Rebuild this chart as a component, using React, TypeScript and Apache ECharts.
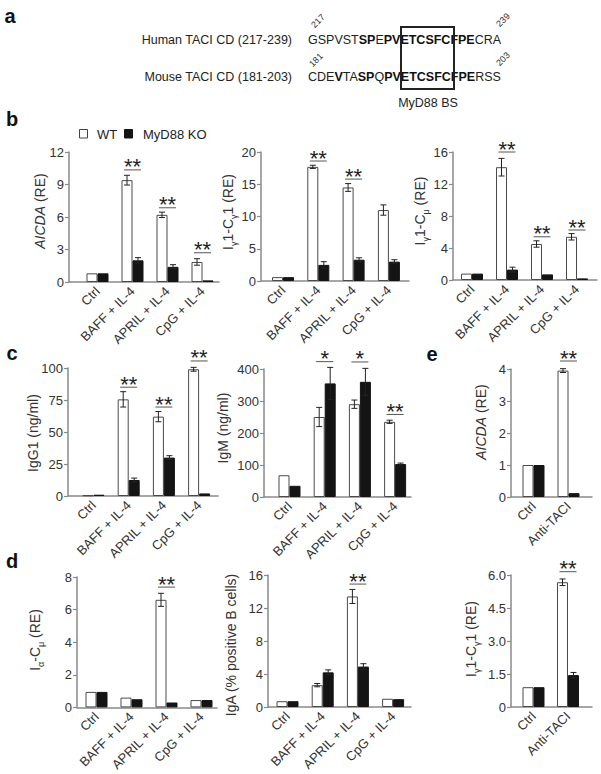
import React, { useEffect, useRef } from 'react';
import * as echarts from 'echarts';

// ---------- DATA ----------
const cats4 = ['Ctrl', 'BAFF + IL-4', 'APRIL + IL-4', 'CpG + IL-4'];
const catsE = ['Ctrl', 'Anti-TACI'];

// b: AICDA (RE)
const b1WT = [0.8, 9.4, 6.2, 1.85];
const b1WTErr = [0, 0.45, 0.25, 0.3];
const b1KO = [0.8, 2.0, 1.4, 0.15];
const b1KOErr = [0, 0.25, 0.2, 0];
const b1Sig: [number, number, string][] = [[2, 10.35, '**'], [3, 6.85, '**'], [4, 2.7, '**']];

// b: Iγ1-Cγ1 (RE)
const b2WT = [0.6, 17.7, 14.5, 11.0];
const b2WTErr = [0, 0.25, 0.6, 0.8];
const b2KO = [0.6, 2.5, 3.3, 3.0];
const b2KOErr = [0, 0.5, 0.3, 0.3];
const b2Sig: [number, number, string][] = [[2, 18.6, '**'], [3, 15.8, '**']];

// b: Iγ1-Cμ (RE)
const b3WT = [0.8, 14.1, 4.5, 5.4];
const b3WTErr = [0, 1.1, 0.4, 0.4];
const b3KO = [0.8, 1.3, 0.7, 0.2];
const b3KOErr = [0, 0.3, 0, 0];
const b3Sig: [number, number, string][] = [[2, 16.0, '**'], [3, 5.4, '**'], [4, 6.25, '**']];

// c: IgG1 (ng/ml)
const c1WT = [0.5, 75.5, 62, 99];
const c1WTErr = [0, 6, 4, 1.5];
const c1KO = [1, 12.5, 30, 2];
const c1KOErr = [0, 1.5, 1.5, 0];
const c1Sig: [number, number, string][] = [[2, 85, '**'], [3, 69.5, '**'], [4, 105.5, '**']];

// c: IgM (ng/ml)
const c2WT = [68, 250, 290, 235];
const c2WTErr = [0, 30, 13, 5];
const c2KO = [35, 355, 360, 103];
const c2KOErr = [0, 50, 42, 3];
const c2Sig: [number, number, string][] = [[2, 423, '*'], [3, 422, '*'], [4, 258, '**']];

// e: AICDA (RE), anti-TACI
const e1WT = [1.0, 3.95];
const e1WTErr = [0, 0.06];
const e1KO = [1.0, 0.12];
const e1KOErr = [0, 0];
const e1Sig: [number, number, string][] = [[2, 4.25, '**']];

// d: Iα-Cμ (RE)
const d1WT = [0.95, 0.6, 6.6, 0.45];
const d1WTErr = [0, 0, 0.4, 0];
const d1KO = [0.95, 0.5, 0.3, 0.45];
const d1KOErr = [0, 0, 0, 0];
const d1Sig: [number, number, string][] = [[3, 7.38, '**']];

// d: IgA (% positive B cells)
const d2WT = [0.7, 2.65, 13.4, 1.0];
const d2WTErr = [0, 0.2, 0.85, 0];
const d2KO = [0.7, 4.2, 4.9, 0.95];
const d2KOErr = [0, 0.3, 0.35, 0];
const d2Sig: [number, number, string][] = [[3, 14.9, '**']];

// e: Iγ1-Cγ1 (RE), anti-TACI
const e2WT = [0.9, 5.67];
const e2WTErr = [0, 0.15];
const e2KO = [0.9, 1.45];
const e2KOErr = [0, 0.12];
const e2Sig: [number, number, string][] = [[2, 6.15, '**']];

// ---------- STYLE / LAYOUT ----------
const FONT = '"Liberation Sans", Arial, Helvetica, sans-serif';
const AXIS = '#8a8a8a';
const TXT = '#333';

type Panel = {
  L: number; R: number; C1: number; S: number; top: number; bottom: number;
  cats: string[]; yMax: number; yInt: number;
  wt: number[]; wtErr: number[]; ko: number[]; koErr: number[];
  sig: [number, number, string][];
  yFmt?: (v: number) => string;
};

const panels: Panel[] = [
  { L: 69, R: 219, C1: 97.5, S: 35, top: 152, bottom: 282, cats: cats4, yMax: 12, yInt: 3, wt: b1WT, wtErr: b1WTErr, ko: b1KO, koErr: b1KOErr, sig: b1Sig },
  { L: 261, R: 409, C1: 283, S: 35.3, top: 152, bottom: 281, cats: cats4, yMax: 20, yInt: 5, wt: b2WT, wtErr: b2WTErr, ko: b2KO, koErr: b2KOErr, sig: b2Sig },
  { L: 453, R: 597, C1: 472, S: 35, top: 152, bottom: 280, cats: cats4, yMax: 16, yInt: 4, wt: b3WT, wtErr: b3WTErr, ko: b3KO, koErr: b3KOErr, sig: b3Sig },
  { L: 68, R: 218, C1: 93.5, S: 35.2, top: 368, bottom: 496, cats: cats4, yMax: 100, yInt: 25, wt: c1WT, wtErr: c1WTErr, ko: c1KO, koErr: c1KOErr, sig: c1Sig },
  { L: 264, R: 411, C1: 289.5, S: 35.2, top: 369, bottom: 497, cats: cats4, yMax: 400, yInt: 100, wt: c2WT, wtErr: c2WTErr, ko: c2KO, koErr: c2KOErr, sig: c2Sig },
  { L: 511, R: 592, C1: 533.5, S: 35, top: 369, bottom: 497, cats: catsE, yMax: 4, yInt: 1, wt: e1WT, wtErr: e1WTErr, ko: e1KO, koErr: e1KOErr, sig: e1Sig },
  { L: 77, R: 217, C1: 96.5, S: 35, top: 577, bottom: 708, cats: cats4, yMax: 8, yInt: 2, wt: d1WT, wtErr: d1WTErr, ko: d1KO, koErr: d1KOErr, sig: d1Sig },
  { L: 268, R: 411, C1: 287.5, S: 35.2, top: 575, bottom: 707, cats: cats4, yMax: 16, yInt: 4, wt: d2WT, wtErr: d2WTErr, ko: d2KO, koErr: d2KOErr, sig: d2Sig },
  { L: 511, R: 592, C1: 533.5, S: 34.5, top: 575, bottom: 707, cats: catsE, yMax: 6, yInt: 1.5, wt: e2WT, wtErr: e2WTErr, ko: e2KO, koErr: e2KOErr, sig: e2Sig, yFmt: (v) => (v === 0 ? '0' : v.toFixed(1)) },
];

const BAR_W = 11;

function buildOption() {
  const grid: any[] = [];
  const xAxis: any[] = [];
  const yAxis: any[] = [];
  const series: any[] = [];
  const axisLineStyle = { color: AXIS, width: 1.5 };

  panels.forEach((p, i) => {
    const n = p.cats.length;
    const Cn = p.C1 + (n - 1) * p.S;
    const min = 1 - (p.C1 - p.L) / p.S;
    const max = n + (p.R - Cn) / p.S;
    grid.push({ left: p.L, top: p.top, width: p.R - p.L, height: p.bottom - p.top });
    xAxis.push({
      gridIndex: i, type: 'value', min, max,
      axisLine: { show: true, onZero: false, lineStyle: axisLineStyle },
      axisTick: { show: false }, splitLine: { show: false },
      axisLabel: {
        customValues: p.cats.map((_, k) => k + 1),
        formatter: (v: number) => p.cats[Math.round(v) - 1] ?? '',
        rotate: 45, fontSize: 13, color: TXT, fontFamily: FONT, margin: 7,
      },
    });
    yAxis.push({
      gridIndex: i, type: 'value', min: 0, max: p.yMax, interval: p.yInt,
      axisLine: { show: true, lineStyle: axisLineStyle },
      axisTick: { show: true, length: 4, lineStyle: { color: AXIS, width: 1.2 } },
      splitLine: { show: false },
      axisLabel: { fontSize: 13, color: TXT, fontFamily: FONT, margin: 5, formatter: p.yFmt },
    });
    series.push({
      type: 'bar', name: 'WT', xAxisIndex: i, yAxisIndex: i, barWidth: BAR_W, barGap: '0%',
      data: p.wt.map((v, k) => [k + 1, v]),
      itemStyle: { color: '#ffffff', borderColor: '#4a4a4a', borderWidth: 1 },
    });
    series.push({
      type: 'bar', name: 'MyD88 KO', xAxisIndex: i, yAxisIndex: i, barWidth: BAR_W, barGap: '0%',
      data: p.ko.map((v, k) => [k + 1, v]),
      itemStyle: { color: '#141414', borderColor: '#141414', borderWidth: 1 },
    });
    const errData: number[][] = [];
    p.wt.forEach((v, k) => { if (p.wtErr[k] > 0) errData.push([k + 1, v, p.wtErr[k], -1]); });
    p.ko.forEach((v, k) => { if (p.koErr[k] > 0) errData.push([k + 1, v, p.koErr[k], 1]); });
    series.push({
      type: 'custom', xAxisIndex: i, yAxisIndex: i, clip: false, z: 5,
      encode: { x: 0, y: 1 },
      data: errData,
      renderItem: (_params: any, api: any) => {
        const x = api.value(0), m = api.value(1), e = api.value(2), side = api.value(3);
        const a = api.coord([x, m + e]);
        const b = api.coord([x, m - e]);
        const cx = a[0] + side * (BAR_W / 2);
        const style = { stroke: '#222', lineWidth: 1 };
        return {
          type: 'group',
          children: [
            { type: 'line', shape: { x1: cx, y1: a[1], x2: cx, y2: b[1] }, style },
            { type: 'line', shape: { x1: cx - 3, y1: a[1], x2: cx + 3, y2: a[1] }, style },
            { type: 'line', shape: { x1: cx - 3, y1: b[1], x2: cx + 3, y2: b[1] }, style },
          ],
        };
      },
    });
    const sig = p.sig;
    series.push({
      type: 'custom', xAxisIndex: i, yAxisIndex: i, clip: false, z: 6,
      encode: { x: 0, y: 1 },
      data: sig.map((s) => [s[0], s[1]]),
      renderItem: (params: any, api: any) => {
        const c = api.coord([api.value(0), api.value(1)]);
        const label = sig[params.dataIndex][2];
        return {
          type: 'group',
          children: [
            { type: 'line', shape: { x1: c[0] - 8.5, y1: c[1], x2: c[0] + 8.5, y2: c[1] }, style: { stroke: '#555', lineWidth: 1 } },
            { type: 'text', x: c[0], y: c[1] - 3, style: { text: label, fontSize: 22, fontFamily: FONT, fill: '#222', align: 'center', verticalAlign: 'middle' } },
          ],
        };
      },
    });
  });

  const g: any[] = [];
  const letter = (t: string, x: number, y: number) =>
    g.push({ type: 'text', x, y, style: { text: t, fontSize: 20, fontWeight: 'bold', fontFamily: FONT, fill: '#111', align: 'center', verticalAlign: 'middle' } });
  letter('a', 10, 16); letter('b', 12, 119); letter('c', 12, 353); letter('d', 12, 561); letter('e', 432, 354);

  // panel a
  const aFont = { fontSize: 12.5, fontFamily: FONT, fill: '#222' };
  g.push({ type: 'text', x: 292, y: 40, style: { text: 'Human TACI CD (217-239)', ...aFont, align: 'right', verticalAlign: 'middle' } });
  g.push({ type: 'text', x: 292, y: 77, style: { text: 'Mouse TACI CD (181-203)', ...aFont, align: 'right', verticalAlign: 'middle' } });
  const seqRich = { r: { fontSize: 12.5, fontFamily: FONT, fill: '#222' }, b: { fontSize: 12.5, fontFamily: FONT, fontWeight: 'bold', fill: '#111' } };
  g.push({ type: 'text', x: 308, y: 40, style: { text: '{r|GSPVST}{b|SP}{r|E}{b|PV}{b|ETCSFC}{b|FPE}{r|CRA}', rich: seqRich, ...aFont, align: 'left', verticalAlign: 'middle' } });
  g.push({ type: 'text', x: 308, y: 77, style: { text: '{r|CDE}{b|V}{r|TA}{b|SP}{r|Q}{b|PV}{b|ETCSFC}{b|FPE}{r|RSS}', rich: seqRich, ...aFont, align: 'left', verticalAlign: 'middle' } });
  g.push({ type: 'rect', shape: { x: 401, y: 27, width: 53, height: 62 }, style: { fill: 'none', stroke: '#222', lineWidth: 2 } });
  g.push({ type: 'text', x: 428, y: 103, style: { text: 'MyD88 BS', ...aFont, align: 'center', verticalAlign: 'middle' } });
  const num = (t: string, x: number, y: number) =>
    g.push({ type: 'text', x, y, rotation: Math.PI / 4, style: { text: t, fontSize: 9, fontFamily: FONT, fill: '#333', align: 'center', verticalAlign: 'middle' } });
  num('217', 318, 21); num('239', 503, 20); num('181', 316, 60); num('203', 503, 59);

  // legend
  g.push({ type: 'rect', shape: { x: 79.5, y: 129.5, width: 8, height: 8.5 }, style: { fill: '#fff', stroke: '#444', lineWidth: 1 } });
  g.push({ type: 'text', x: 97, y: 134, style: { text: 'WT', fontSize: 13, fontFamily: FONT, fill: '#222', align: 'left', verticalAlign: 'middle' } });
  g.push({ type: 'rect', shape: { x: 124.5, y: 129.5, width: 8, height: 8.5 }, style: { fill: '#141414', stroke: '#141414', lineWidth: 1 } });
  g.push({ type: 'text', x: 143, y: 134, style: { text: 'MyD88 KO', fontSize: 13, fontFamily: FONT, fill: '#222', align: 'left', verticalAlign: 'middle' } });

  // axis titles
  const richT = {
    n: { fontSize: 14, lineHeight: 20, fontFamily: FONT, fill: '#333', verticalAlign: 'middle' },
    i: { fontSize: 14, lineHeight: 20, fontFamily: FONT, fill: '#333', fontStyle: 'italic', verticalAlign: 'middle' },
    s: { fontSize: 9, lineHeight: 10, fontFamily: FONT, fill: '#333', verticalAlign: 'bottom' },
  };
  const title = (t: string, x: number, y: number) =>
    g.push({ type: 'text', x, y, rotation: Math.PI / 2, style: { text: t, rich: richT, fontSize: 14, fontFamily: FONT, fill: '#333', align: 'center', verticalAlign: 'middle' } });
  title('{i|AICDA}{n| (RE)}', 40, 211);
  title('{n|I}{s|γ}{n|1-C}{s|γ}{n|1 (RE)}', 228, 212);
  title('{n|I}{s|γ}{n|1-C}{s|μ}{n| (RE)}', 420, 211);
  title('{n|IgG1 (ng/ml)}', 33, 433);
  title('{n|IgM (ng/ml)}', 223, 428);
  title('{i|AICDA}{n| (RE)}', 481, 422);
  title('{n|I}{s|α}{n|-C}{s|μ}{n| (RE)}', 35, 640);
  title('{n|IgA (% positive B cells)}', 231, 645);
  title('{n|I}{s|γ}{n|1-C}{s|γ}{n|1 (RE)}', 471, 639);

  return {
    animation: false,
    backgroundColor: '#ffffff',
    textStyle: { fontFamily: FONT },
    grid, xAxis, yAxis, series,
    graphic: { elements: g },
  };
}

export default function App() {
  const ref = useRef<HTMLDivElement>(null);
  useEffect(() => {
    if (!ref.current) return;
    const chart = echarts.init(ref.current, undefined, { renderer: 'svg' });
    chart.setOption(buildOption() as any);
    return () => chart.dispose();
  }, []);
  return <div ref={ref} style={{ position: 'absolute', left: 0, top: 0, width: 601, height: 774 }} />;
}
